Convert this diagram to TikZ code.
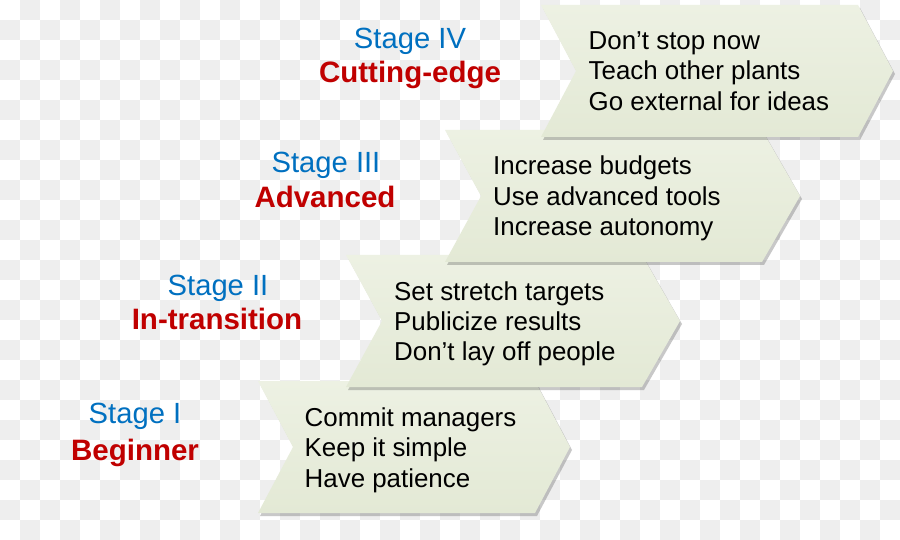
\documentclass[tikz,border=0pt]{standalone}
\usepackage{fontspec}
\setmainfont{Liberation Sans}
\usetikzlibrary{shadows}
\definecolor{chevtop}{RGB}{237,241,227}
\definecolor{chevbot}{RGB}{227,233,213}
\definecolor{stageblue}{RGB}{0,112,192}
\definecolor{stagered}{RGB}{192,0,0}
\definecolor{checkgray}{RGB}{238,238,238}
\tikzset{
  chevron/.style={top color=chevtop, bottom color=chevbot,
    drop shadow={shadow xshift=2pt, shadow yshift=-3pt, opacity=0.3, fill=black!70}},
  items/.style={anchor=base west, inner sep=0pt, font=\fontsize{25.9}{30.5}\selectfont},
  stagenum/.style={anchor=base, inner sep=0pt, text=stageblue, font=\fontsize{29.2}{34}\selectfont},
  stagename/.style={anchor=base, inner sep=0pt, text=stagered, font=\fontsize{29.5}{34}\selectfont\bfseries},
}
% left x, right x, mid y, half height, notch depth, tip depth
\newcommand{\chevpath}[6]{%
  \path[chevron] (#1,#3-#4) -- (#2,#3-#4) -- (#2+#6,#3) -- (#2,#3+#4)
    -- (#1,#3+#4) -- (#1+#5,#3) -- cycle;}
\begin{document}
\begin{tikzpicture}[x=1pt,y=-1pt]
\useasboundingbox (0,0) rectangle (900,540);
\fill[white] (0,0) rectangle (900,540);
\foreach \i in {0,...,44}{
  \foreach \j in {0,...,26}{
    \pgfmathparse{int(mod(\i+\j,2))}
    \ifnum\pgfmathresult=1
      \fill[checkgray] (\i*20,\j*20) rectangle ++(20,20);
    \fi
  }
}
% chevrons, bottom stage first
\chevpath{258}{535}{447}{66}{35}{35}
\chevpath{346}{642}{321}{66}{36}{38}
\chevpath{445}{762}{196}{66}{36}{38}
\chevpath{541}{858}{71}{66}{35}{35}
% items
\node[items] (t1) at (304.5,426) {\begin{tabular}[t]{@{}l@{}}Commit managers\\Keep it simple\\Have patience\end{tabular}};
\node[items] (t2) at (394,300) {\begin{tabular}[t]{@{}l@{}}Set stretch targets\\Publicize results\\Don’t lay off people\end{tabular}};
\node[items] (t3) at (493,175) {\begin{tabular}[t]{@{}l@{}}Increase budgets\\Use advanced tools\\Increase autonomy\end{tabular}};
\node[items] (t4) at (588.5,49.5) {\begin{tabular}[t]{@{}l@{}}Don’t stop now\\Teach other plants\\Go external for ideas\end{tabular}};
% stage labels
\node[stagenum] (s1) at (135,423.5) {Stage I};
\node[stagename] (n1) at (135,460) {Beginner};
\node[stagenum] (s2) at (218,295) {Stage II};
\node[stagename] (n2) at (217,329) {In-transition};
\node[stagenum] (s3) at (326,173) {Stage III};
\node[stagename] (n3) at (325,208) {Advanced};
\node[stagenum] (s4) at (410,49) {Stage IV};
\node[stagename] (n4) at (410,83) {Cutting-edge};
\end{tikzpicture}
\end{document}
